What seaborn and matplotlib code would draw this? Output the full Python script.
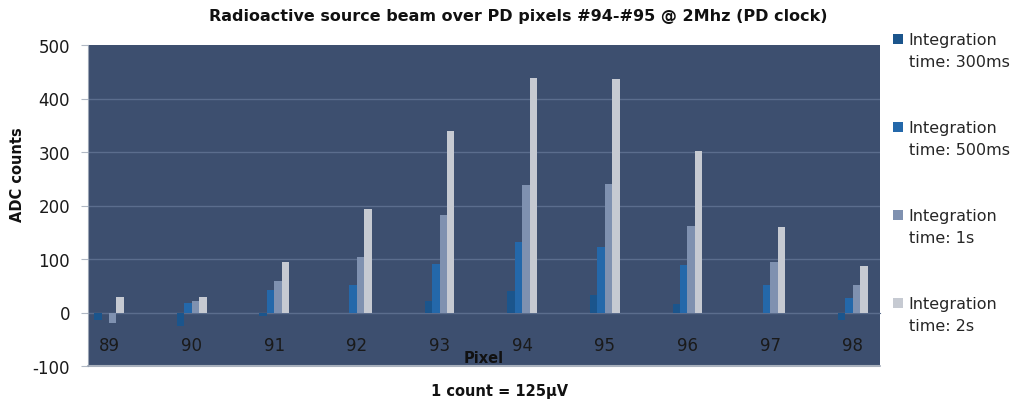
import matplotlib
matplotlib.use("Agg")
import matplotlib.pyplot as plt
from matplotlib.legend_handler import HandlerPatch
from matplotlib.patches import Rectangle
import seaborn as sns
import pandas as pd
import numpy as np

pixels = ["89", "90", "91", "92", "93", "94", "95", "96", "97", "98"]
series_names = ["Integration\ntime: 300ms", "Integration\ntime: 500ms",
                "Integration\ntime: 1s", "Integration\ntime: 2s"]
v_300ms = [-14, -25, -6, 0, 21, 41, 32, 16, 0, -14]
v_500ms = [0, 17, 42, 52, 90, 131, 122, 88, 52, 27]
v_1s = [-20, 21, 59, 104, 182, 238, 240, 161, 94, 51]
v_2s = [29, 29, 94, 194, 339, 438, 437, 301, 160, 86]
y_ticks = [-100, 0, 100, 200, 300, 400, 500]

colors = ["#1b558c", "#2468aa", "#7f91b0", "#c6cad2"]

rows = []
for name, vals in zip(series_names, [v_300ms, v_500ms, v_1s, v_2s]):
    for p, v in zip(pixels, vals):
        rows.append({"pixel": p, "value": v, "series": name})
df = pd.DataFrame(rows)

sns.set_style("white")
plt.rcParams['font.family'] = ['DejaVu Sans']

fig = plt.figure(figsize=(10.16, 4.02), dpi=100)
ax = fig.add_axes([88 / 1016, 1 - 367 / 402, 792 / 1016, 321 / 402])
ax.set_facecolor("#3d4f6f")

sns.barplot(data=df, x="pixel", y="value", hue="series", order=pixels,
            hue_order=series_names, palette=colors, width=0.36, gap=0,
            saturation=1, ax=ax, edgecolor="none", linewidth=0)

ax.set_yticks(y_ticks)
ax.set_yticklabels([str(t) for t in y_ticks], fontsize=12, color="#1a1a1a")
for t in y_ticks[1:-1]:
    ax.axhline(t, color="#5b6d8d", lw=1.0, zorder=0.5)
ax.set_axisbelow(True)

# category axis along the zero line
ax.spines["bottom"].set_position(("data", 0))
ax.spines["bottom"].set_color("#5b6d8d")
ax.spines["bottom"].set_zorder(0.6)
ax.tick_params(axis="x", which="major", length=0, pad=17, labelsize=12,
               labelcolor="#1a1a1a")
minor = []
for i in range(len(pixels)):
    minor += [i + 0.26, i + 0.76]
minor = [m for m in minor if m < 9.3]
ax.set_xticks(minor, minor=True)
ax.tick_params(axis="x", which="minor", length=4, color="#6f7f9c", direction="out")
ax.tick_params(axis="y", which="major", length=5, color="#b0b8c4", left=True, pad=8)

ax.set_ylim(-100, 500)
ax.set_xlim(-0.254, 9.33)

for s in ["top", "right"]:
    ax.spines[s].set_visible(False)
ax.spines["left"].set_color("#9aa4b4")

# bottom border of plot area
ax.plot([0, 1], [0, 0], transform=ax.transAxes, color="#a8b0bc", lw=1.5, clip_on=False)

ax.set_xlabel("Pixel", fontsize=10.5, fontweight="bold", color="#111111")
ax.xaxis.set_label_coords(0.499, 0.028)
ax.xaxis.label.set_va("center")
ax.set_ylabel("ADC counts", fontsize=10.5, fontweight="bold", color="#111111")
ax.yaxis.set_label_coords(-0.079, 0.60)

fig.suptitle("Radioactive source beam over PD pixels #94-#95 @ 2Mhz (PD clock)",
             x=518 / 1016, y=1 - 17 / 402, va="center", fontsize=11.5,
             fontweight="bold", color="#111111")
fig.text(500 / 1016, 1 - 392 / 402, "1 count = 125\u00b5V", ha="center", va="center",
         fontsize=10.5, fontweight="bold", color="#111111")


def raised_square(legend, orig_handle, xdescent, ydescent, width, height, fontsize):
    return Rectangle((-xdescent, -ydescent + 0.75 * fontsize), width, height)


handles, labels = ax.get_legend_handles_labels()
ax.get_legend().remove()
leg = fig.legend(handles, labels, loc="upper left", bbox_to_anchor=(887 / 1016, 1 - 27 / 402),
                 frameon=False, fontsize=11.5, handlelength=0.6, handleheight=0.6,
                 handletextpad=0.35, labelspacing=3.22, borderaxespad=0,
                 handler_map={h: HandlerPatch(patch_func=raised_square) for h in handles})
for t in leg.get_texts():
    t.set_linespacing(1.55)

fig.savefig("out.png", dpi=100, facecolor="white")
